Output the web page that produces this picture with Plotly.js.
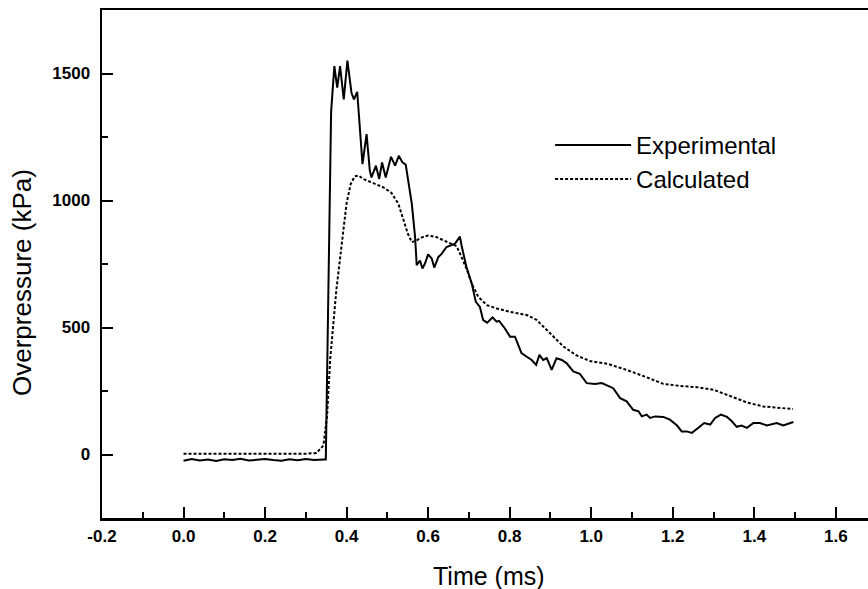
<!DOCTYPE html>
<html>
<head>
<meta charset="utf-8">
<script src="https://cdn.plot.ly/plotly-3.0.1.min.js"></script>
<style>html,body{margin:0;padding:0;background:#fff;}#chart{width:868px;height:589px;}</style>
</head>
<body>
<div id="chart"></div>
<script>
// Experimental series (time in ms, overpressure in kPa)
const expTime = [0.0,0.02,0.04,0.06,0.08,0.1,0.12,0.14,0.16,0.18,0.2,0.22,0.24,0.26,0.28,0.3,0.32,0.345,
  0.349,0.362,0.37,0.377,0.384,0.393,0.402,0.412,0.418,0.426,0.439,0.449,0.457,0.461,0.472,0.48,0.487,0.496,
  0.509,0.519,0.528,0.537,0.545,0.56,0.568,0.572,0.58,0.586,0.592,0.6,0.609,0.615,0.625,0.633,0.645,0.666,
  0.678,0.682,0.694,0.707,0.717,0.727,0.735,0.745,0.758,0.768,0.774,0.788,0.801,0.813,0.829,0.842,0.854,
  0.865,0.873,0.882,0.891,0.903,0.915,0.928,0.94,0.956,0.972,0.989,1.009,1.026,1.054,1.071,1.087,1.103,
  1.116,1.124,1.136,1.144,1.157,1.177,1.193,1.21,1.222,1.234,1.247,1.263,1.277,1.292,1.304,1.318,1.333,
  1.345,1.357,1.369,1.382,1.398,1.414,1.431,1.455,1.471,1.484,1.496];
const expPressure = [-25,-18,-24,-20,-26,-19,-22,-17,-24,-20,-18,-22,-25,-19,-23,-18,-22,-20,
  -20,1350,1529,1444,1529,1398,1551,1424,1398,1428,1143,1261,1117,1091,1137,1085,1150,1091,
  1172,1137,1176,1150,1141,987,856,745,764,732,751,788,771,736,777,790,817,830,
  858,823,738,673,601,581,529,519,540,523,526,497,464,464,399,385,372,
  353,392,372,379,333,379,372,359,327,318,281,278,281,261,222,209,176,
  170,150,157,144,150,148,137,115,91,91,85,105,124,118,144,157,148,
  131,109,114,105,124,124,114,124,114,122,128];

// Calculated series
const calcTime = [0.0,0.05,0.1,0.15,0.2,0.25,0.3,0.326,0.343,0.352,0.36,0.375,0.39,0.4,0.41,0.42,0.43,0.44,
  0.46,0.49,0.51,0.527,0.54,0.55,0.56,0.572,0.585,0.6,0.62,0.64,0.655,0.67,0.682,0.694,0.707,0.723,0.744,
  0.768,0.8,0.842,0.866,0.9,0.932,0.964,0.997,1.04,1.087,1.136,1.177,1.218,1.26,1.3,1.341,1.382,1.422,
  1.463,1.495];
const calcPressure = [3,3,3,3,3,3,3,6,35,150,380,650,840,990,1065,1095,1098,1085,
  1072,1052,1030,987,921,870,836,843,855,862,856,842,830,820,777,732,673,621,588,
  575,562,549,530,477,425,390,368,357,333,304,278,270,265,255,231,205,189,
  183,179];

const seriesNames = ["Experimental", "Calculated"];
const xTickVals = [-0.2,0.0,0.2,0.4,0.6,0.8,1.0,1.2,1.4,1.6];
const xTickText = ["-0.2","0.0","0.2","0.4","0.6","0.8","1.0","1.2","1.4","1.6"];
const yTickVals = [0,500,1000,1500];
const yTickText = ["0","500","1000","1500"];
const xTitle = "Time (ms)";
const yTitle = "Overpressure (kPa)";

const FONT = "Liberation Sans, Arial, sans-serif";

const traces = [
  {x: expTime, y: expPressure, type: "scatter", mode: "lines", name: seriesNames[0],
   line: {color: "#000", width: 2}},
  {x: calcTime, y: calcPressure, type: "scatter", mode: "lines", name: seriesNames[1],
   line: {color: "#000", width: 2, dash: "3px,2px"}}
];

const axisCommon = {
  showgrid: false, zeroline: false, showline: true, linecolor: "#000", linewidth: 2.5,
  ticks: "inside", tickcolor: "#000", tickwidth: 2, ticklen: 11,
  tickfont: {family: FONT, size: 17, color: "#000", weight: "bold"},
  minor: {ticks: "inside", ticklen: 6, tickwidth: 2, tickcolor: "#000"}
};

const layout = {
  width: 868, height: 589,
  margin: {l: 102, r: 0, t: 10, b: 71},
  paper_bgcolor: "#fff", plot_bgcolor: "#fff",
  showlegend: true,
  legend: {x: 0.585, y: 0.778, xanchor: "left", yanchor: "top", bgcolor: "rgba(0,0,0,0)",
    font: {family: FONT, size: 24, color: "#000"}, itemwidth: 76},
  xaxis: Object.assign({}, axisCommon, {
    range: [-0.2, 1.679], tickmode: "array", tickvals: xTickVals, ticktext: xTickText,
    minor: Object.assign({}, axisCommon.minor, {dtick: 0.1, tick0: -0.2}),
    mirror: true, ticklabelstandoff: 1
  }),
  yaxis: Object.assign({}, axisCommon, {
    range: [-250, 1750], tickmode: "array", tickvals: yTickVals, ticktext: yTickText,
    minor: Object.assign({}, axisCommon.minor, {dtick: 250, tick0: 0}),
    ticklabelstandoff: 6
  }),
  annotations: [
    {text: yTitle, textangle: -90, xref: "paper", yref: "paper",
     x: 0, y: (518 - 283) / 508, xanchor: "center", yanchor: "middle",
     xshift: -80, showarrow: false,
     font: {family: FONT, size: 26, color: "#000"}},
    {text: xTitle, xref: "paper", yref: "paper",
     x: (489 - 102) / 766, y: 0, xanchor: "center", yanchor: "middle",
     yshift: -58, showarrow: false,
     font: {family: FONT, size: 25, color: "#000"}}
  ]
};

Plotly.newPlot("chart", traces, layout, {displayModeBar: false, staticPlot: true});
</script>
</body>
</html>
